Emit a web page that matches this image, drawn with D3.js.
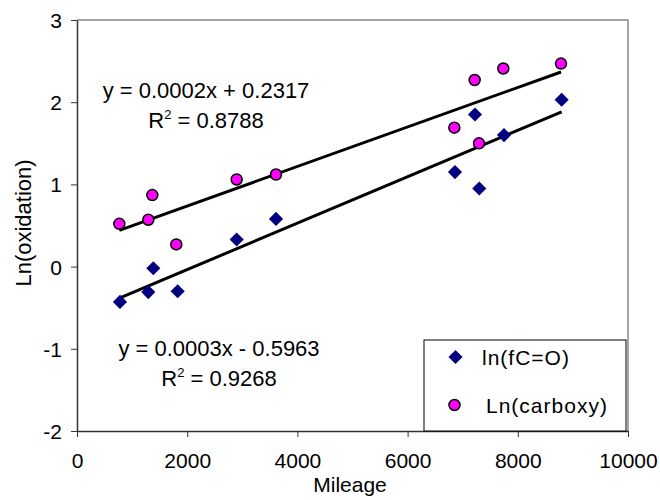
<!DOCTYPE html>
<html>
<head>
<meta charset="utf-8">
<script src="https://d3js.org/d3.v7.min.js"></script>
<style>
  body { margin: 0; background: #fff; }
  text { font-family: "Liberation Sans", Arial, sans-serif; fill: #000; }
</style>
</head>
<body>
<div id="chart"></div>
<script>
// data
var mileageFC = [780, 1294, 1385, 1827, 2898, 3612, 6860, 7223, 7301, 7750, 8796];
var lnFC      = [-0.43, -0.31, -0.02, -0.30, 0.33, 0.58, 1.15, 1.85, 0.95, 1.60, 2.03];
var mileageCarb = [768, 1294, 1367, 1802, 2898, 3612, 6848, 7217, 7296, 7737, 8784];
var lnCarb      = [0.52, 0.57, 0.87, 0.27, 1.06, 1.12, 1.69, 2.27, 1.50, 2.41, 2.47];
var xTicks = [0, 2000, 4000, 6000, 8000, 10000];
var yTicks = [-2, -1, 0, 1, 2, 3];
var eqCarb = ["y = 0.0002x + 0.2317", "0.8788"];
var eqFC   = ["y = 0.0003x - 0.5963", "0.9268"];
var seriesNames = ["ln(fC=O)", "Ln(carboxy)"];

var W = 660, H = 500;
var pLeft = 77, pRight = 628, pTop = 20, pBottom = 431;

var svg = d3.select('#chart').append('svg')
    .attr('width', W).attr('height', H);

var x = d3.scaleLinear().domain([0, 10000]).range([pLeft, pRight]);
var y = d3.scaleLinear().domain([-2, 3]).range([pBottom, pTop]);

// plot frame (top/right grey)
svg.append('path')
    .attr('d', 'M' + pLeft + ',' + pTop + 'H' + pRight + 'V' + pBottom)
    .attr('fill', 'none').attr('stroke', '#888').attr('stroke-width', 1.5);

var plain = function(d) { return String(d); };
var xAxis = svg.append('g')
    .attr('transform', 'translate(0,' + pBottom + ')')
    .call(d3.axisBottom(x).tickValues(xTicks).tickSize(6).tickSizeOuter(0).tickPadding(16).tickFormat(plain));
var yAxis = svg.append('g')
    .attr('transform', 'translate(' + pLeft + ',0)')
    .call(d3.axisLeft(y).tickValues(yTicks).tickSize(6).tickSizeOuter(0).tickPadding(9).tickFormat(plain));

[xAxis, yAxis].forEach(function(a) {
  a.select('.domain').attr('stroke', '#333').attr('stroke-width', 1.5);
  a.selectAll('.tick line').attr('stroke', '#333').attr('stroke-width', 1);
  a.selectAll('.tick text').attr('font-size', 21).attr('font-family', '"Liberation Sans", Arial, sans-serif').attr('fill', '#000');
});
yAxis.selectAll('.tick text').attr('dy', '0.36em');

svg.append('text').attr('x', 350).attr('y', 492)
    .attr('text-anchor', 'middle').attr('font-size', 21).text('Mileage');
svg.append('text')
    .attr('transform', 'translate(31,223) rotate(-90)')
    .attr('text-anchor', 'middle').attr('font-size', 22).text('Ln(oxidation)');

// least squares fit
function fit(xs, ys) {
  var mx = d3.mean(xs), my = d3.mean(ys);
  var sxy = d3.sum(xs, function(v, i) { return (v - mx) * (ys[i] - my); });
  var sxx = d3.sum(xs, function(v) { return (v - mx) * (v - mx); });
  var b = sxy / sxx;
  return { b: b, a: my - b * mx };
}

function trend(xs, ys) {
  var f = fit(xs, ys);
  var ext = d3.extent(xs);
  svg.append('line')
      .attr('x1', x(ext[0])).attr('y1', y(f.a + f.b * ext[0]))
      .attr('x2', x(ext[1])).attr('y2', y(f.a + f.b * ext[1]))
      .attr('stroke', '#000').attr('stroke-width', 3);
}
trend(mileageCarb, lnCarb);
trend(mileageFC, lnFC);

function drawDiamond(g, cx, cy) {
  g.append('rect')
      .attr('x', -5).attr('y', -5).attr('width', 10).attr('height', 10)
      .attr('transform', 'translate(' + cx + ',' + cy + ') rotate(45)')
      .attr('fill', '#000080');
}
function drawCircle(g, cx, cy) {
  g.append('circle').attr('cx', cx).attr('cy', cy).attr('r', 5.5)
      .attr('fill', '#ff00ff').attr('stroke', '#000').attr('stroke-width', 1.5);
}

var pts = svg.append('g');
mileageCarb.forEach(function(m, i) { drawCircle(pts, x(m), y(lnCarb[i])); });
mileageFC.forEach(function(m, i) { drawDiamond(pts, x(m), y(lnFC[i])); });

// equation labels
function eq(lines, cx, y1, y2) {
  svg.append('text').attr('x', cx).attr('y', y1).attr('text-anchor', 'middle')
      .attr('font-size', 22).text(lines[0]);
  var t = svg.append('text').attr('x', cx).attr('y', y2).attr('text-anchor', 'middle')
      .attr('font-size', 22);
  t.append('tspan').text('R');
  t.append('tspan').attr('font-size', 13).attr('dy', -9).text('2');
  t.append('tspan').attr('dy', 9).text(' = ' + lines[1]);
}
eq(eqCarb, 206, 98, 128);
eq(eqFC, 219, 356, 386);

// legend
var lg = svg.append('g');
lg.append('rect').attr('x', 424).attr('y', 340).attr('width', 202).attr('height', 91)
    .attr('fill', '#fff').attr('stroke', '#000').attr('stroke-width', 1);
drawDiamond(lg, 455.5, 357);
drawCircle(lg, 454.5, 405);
lg.append('text').attr('x', 482).attr('y', 357).attr('dy', '0.36em')
    .attr('font-size', 21).attr('letter-spacing', 1).text(seriesNames[0]);
lg.append('text').attr('x', 486).attr('y', 405).attr('dy', '0.36em')
    .attr('font-size', 21).attr('letter-spacing', 1).text(seriesNames[1]);
</script>
</body>
</html>
